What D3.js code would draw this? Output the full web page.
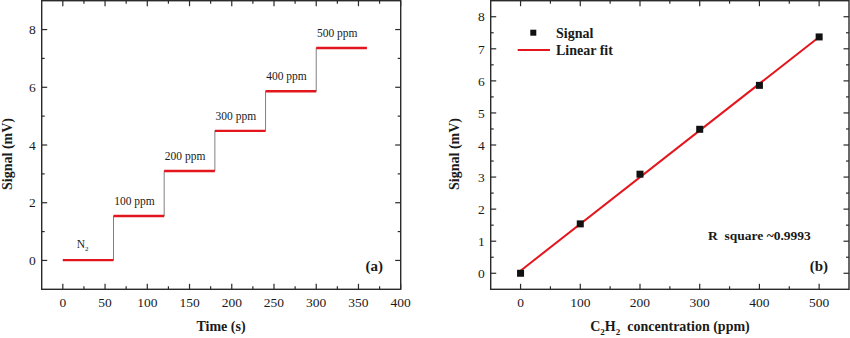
<!DOCTYPE html>
<html><head><meta charset="utf-8">
<script src="https://cdn.jsdelivr.net/npm/d3@7"></script>
<style>
body{margin:0;background:#fff;}
svg text{font-family:"Liberation Serif","Times New Roman",serif;fill:#1a1a1a;}
</style></head>
<body><svg id="c" width="850" height="338"></svg>
<script>
// ---- Panel (a): step response ----
const stepStart = [0, 60, 120, 180, 240, 300];
const stepEnd = [60, 120, 180, 240, 300, 360];
const stepLevel = [0.01, 1.54, 3.10, 4.49, 5.86, 7.36];
const stepLabels = ["N", "100 ppm", "200 ppm", "300 ppm", "400 ppm", "500 ppm"];
const aXTicks = [0, 50, 100, 150, 200, 250, 300, 350, 400];
const aYTicks = [0, 2, 4, 6, 8];

// ---- Panel (b): calibration ----
const concPpm = [0, 100, 200, 300, 400, 500];
const signalMv = [0.0, 1.54, 3.09, 4.49, 5.86, 7.37];
const fitX = [0, 500];
const fitY = [0.08, 7.37];
const bXTicks = [0, 100, 200, 300, 400, 500];
const bYTicks = [0, 1, 2, 3, 4, 5, 6, 7, 8];

const svg = d3.select("#c");
const RED = "#e3161d", FRAME = "#2a2a2a";

function frame(g, x, y, xMajor, xMinor, yMajor, yMinor) {
  const [x0, x1] = x.range(), [y0, y1] = y.range();
  const ax = g.append("g");
  const tick = (xa, ya, xb, yb) => ax.append("line").attr("x1", xa).attr("y1", ya).attr("x2", xb).attr("y2", yb)
    .attr("stroke", FRAME).attr("stroke-width", 1.2);
  xMajor.forEach(v => { const p = x(v); tick(p, y0, p, y0 - 5.5); tick(p, y1, p, y1 + 5.5); });
  xMinor.forEach(v => { const p = x(v); tick(p, y0, p, y0 - 3); tick(p, y1, p, y1 + 3); });
  yMajor.forEach(v => { const p = y(v); tick(x0, p, x0 + 5.5, p); tick(x1, p, x1 - 5.5, p); });
  yMinor.forEach(v => { const p = y(v); tick(x0, p, x0 + 3, p); tick(x1, p, x1 - 3, p); });
  ax.append("rect").attr("x", x0).attr("y", y1).attr("width", x1 - x0).attr("height", y0 - y1)
    .attr("fill", "none").attr("stroke", FRAME).attr("stroke-width", 1.4);
  xMajor.forEach(v => ax.append("text").attr("x", x(v)).attr("y", 306.5).attr("text-anchor", "middle")
    .attr("font-size", 13.5).text(v));
  yMajor.forEach(v => ax.append("text").attr("x", x0 - 6).attr("y", y(v)).attr("dy", "0.35em")
    .attr("text-anchor", "end").attr("font-size", 13.5).text(v));
}

// ===== Panel (a) =====
{
  const x = d3.scaleLinear().domain([-25, 400]).range([41.7, 400.7]);
  const y = d3.scaleLinear().domain([-1, 9]).range([289.3, 0.7]);
  const g = svg.append("g");
  const xMinor = d3.range(25, 400, 50);
  const yMinor = [1, 3, 5, 7];
  frame(g, x, y, aXTicks, xMinor, aYTicks, yMinor);

  const stepPts = [];
  stepStart.forEach((s, i) => { stepPts.push([s, stepLevel[i]]); stepPts.push([stepEnd[i], stepLevel[i]]); });
  g.append("path").attr("d", d3.line().x(d => x(d[0])).y(d => y(d[1]))(stepPts))
    .attr("fill", "none").attr("stroke", "#808080").attr("stroke-width", 1);
  stepStart.forEach((s, i) => {
    g.append("line").attr("x1", x(s)).attr("x2", x(stepEnd[i])).attr("y1", y(stepLevel[i])).attr("y2", y(stepLevel[i]))
      .attr("stroke", RED).attr("stroke-width", 2.4);
  });
  stepStart.forEach((s, i) => {
    const t = g.append("text").attr("font-size", 11.5);
    if (i === 0) {
      t.attr("x", x(s + 16.5)).attr("y", y(stepLevel[i]) - 12).text(stepLabels[i]);
      t.append("tspan").attr("font-size", 7).attr("dy", 3).text("2");
    } else {
      t.attr("x", x(s + 0.8)).attr("y", y(stepLevel[i]) - 11).text(stepLabels[i]);
    }
  });
  g.append("text").attr("x", 383).attr("y", 271).attr("text-anchor", "end").attr("font-size", 15)
    .attr("font-weight", "bold").text("(a)");
  g.append("text").attr("x", 221).attr("y", 330.5).attr("text-anchor", "middle").attr("font-size", 14)
    .attr("font-weight", "bold").text("Time (s)");
  g.append("text").attr("transform", "translate(11.5,154) rotate(-90)").attr("text-anchor", "middle")
    .attr("font-size", 14).attr("font-weight", "bold").text("Signal (mV)");
}

// ===== Panel (b) =====
{
  const x = d3.scaleLinear().domain([-50, 550]).range([490.7, 849]);
  const y = d3.scaleLinear().domain([-0.5, 8.5]).range([289.3, 0.7]);
  const g = svg.append("g");
  const xMinor = d3.range(-50, 600, 100).filter(v => v > -50 && v < 550);
  const yMinor = d3.range(0.5, 8.5, 1);
  frame(g, x, y, bXTicks, xMinor, bYTicks, yMinor);

  g.append("line").attr("x1", x(fitX[0])).attr("y1", y(fitY[0])).attr("x2", x(fitX[1])).attr("y2", y(fitY[1]))
    .attr("stroke", RED).attr("stroke-width", 2);
  g.selectAll("rect.pt").data(concPpm).join("rect").attr("class", "pt")
    .attr("x", (d) => x(d) - 3.5).attr("y", (d, i) => y(signalMv[i]) - 3.5)
    .attr("width", 7).attr("height", 7).attr("fill", "#111");

  g.append("rect").attr("x", 530.3).attr("y", 29.7).attr("width", 6).attr("height", 6).attr("fill", "#111");
  g.append("text").attr("x", 556).attr("y", 37.5).attr("font-size", 14).attr("font-weight", "bold").text("Signal");
  g.append("line").attr("x1", 517.7).attr("x2", 550).attr("y1", 50).attr("y2", 50).attr("stroke", RED).attr("stroke-width", 2);
  g.append("text").attr("x", 556).attr("y", 54.5).attr("font-size", 14).attr("font-weight", "bold").text("Linear fit");

  g.append("text").attr("x", 708).attr("y", 239.5).attr("font-size", 13.5).attr("font-weight", "bold")
    .style("white-space", "pre").text("R  square ~0.9993");
  g.append("text").attr("x", 828).attr("y", 271).attr("text-anchor", "end").attr("font-size", 15)
    .attr("font-weight", "bold").text("(b)");

  const xt = g.append("text").attr("x", 670).attr("y", 330.5).attr("text-anchor", "middle").attr("font-size", 14)
    .attr("font-weight", "bold").style("white-space", "pre");
  xt.append("tspan").text("C");
  xt.append("tspan").attr("font-size", 9).attr("dy", 4).text("2");
  xt.append("tspan").attr("dy", -4).text("H");
  xt.append("tspan").attr("font-size", 9).attr("dy", 4).text("2");
  xt.append("tspan").attr("dy", -4).text("  concentration (ppm)");

  g.append("text").attr("transform", "translate(459,154) rotate(-90)").attr("text-anchor", "middle")
    .attr("font-size", 14).attr("font-weight", "bold").text("Signal (mV)");
}
</script></body></html>
